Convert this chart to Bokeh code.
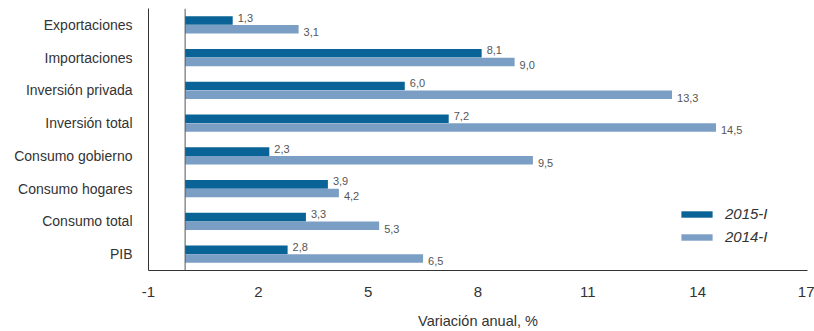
from bokeh.plotting import figure
from bokeh.models import ColumnDataSource, FactorRange, Range1d, Span, FixedTicker, Legend, LegendItem, LabelSet
from bokeh.core.properties import value
from bokeh.transform import dodge
from bokeh.embed import file_html
from bokeh.resources import INLINE

# Components of demand, listed bottom to top
categories = ["PIB", "Consumo total", "Consumo hogares", "Consumo gobierno",
              "Inversión total", "Inversión privada", "Importaciones", "Exportaciones"]
values_2015 = [2.8, 3.3, 3.9, 2.3, 7.2, 6.0, 8.1, 1.3]
values_2014 = [6.5, 5.3, 4.2, 9.5, 14.5, 13.3, 9.0, 3.1]
x_ticks = [-1, 2, 5, 8, 11, 14, 17]

DARK = "#0a6396"
LIGHT = "#7b9ec4"
TEXT = "#333333"
FONT = "Liberation Sans"

def fmt(v):
    return f"{v:.1f}".replace(".", ",")

src = ColumnDataSource(dict(
    cat=categories,
    v15=values_2015,
    v14=values_2014,
    l15=[fmt(v) for v in values_2015],
    l14=[fmt(v) for v in values_2014],
))

p = figure(width=814, height=331, output_backend="svg", toolbar_location=None,
           y_range=FactorRange(factors=categories, range_padding=0),
           x_range=Range1d(-1, 17))
p.min_border_left = 148
p.min_border_right = 7
p.min_border_top = 8
p.min_border_bottom = 58
p.outline_line_color = None
p.grid.grid_line_color = None

bar_h = 0.26
r15 = p.hbar(y=dodge("cat", bar_h / 2, range=p.y_range), left=0, right="v15",
             height=bar_h, source=src, fill_color=DARK, line_color=None)
r14 = p.hbar(y=dodge("cat", -bar_h / 2, range=p.y_range), left=0, right="v14",
             height=bar_h, source=src, fill_color=LIGHT, line_color=None)

# value labels at bar ends
lab15 = LabelSet(x="v15", y=dodge("cat", bar_h / 2, range=p.y_range), text="l15",
                 source=src, x_offset=5, y_offset=-1, text_font=value(FONT),
                 text_font_size="11px", text_color="#555555", text_baseline="bottom")
lab14 = LabelSet(x="v14", y=dodge("cat", -bar_h / 2, range=p.y_range), text="l14",
                 source=src, x_offset=5, y_offset=-3, text_font=value(FONT),
                 text_font_size="11px", text_color="#555555", text_baseline="middle")
p.add_layout(lab15)
p.add_layout(lab14)

# zero reference line
p.add_layout(Span(location=0, dimension="height", line_color="#555555", line_width=1))

# axes
p.xaxis.ticker = FixedTicker(ticks=x_ticks)
p.xaxis.major_label_overrides = {t: str(t) for t in x_ticks}
p.xaxis.major_tick_line_color = None
p.xaxis.minor_tick_line_color = None
p.xaxis.axis_line_color = "#333333"
p.xaxis.major_label_text_font = FONT
p.xaxis.major_label_text_font_size = "15px"
p.xaxis.major_label_text_color = TEXT
p.xaxis.major_label_standoff = 10
p.xaxis.axis_label = "Variación anual, %"
p.xaxis.axis_label_text_font = FONT
p.xaxis.axis_label_text_font_style = "normal"
p.xaxis.axis_label_text_font_size = "14.5px"
p.xaxis.axis_label_text_color = TEXT
p.xaxis.axis_label_standoff = 13

p.yaxis.major_tick_line_color = None
p.yaxis.minor_tick_line_color = None
p.yaxis.axis_line_color = "#333333"
p.yaxis.major_label_text_font = FONT
p.yaxis.major_label_text_font_size = "14px"
p.yaxis.major_label_text_color = TEXT
p.yaxis.major_label_standoff = 10

legend = Legend(items=[LegendItem(label="2015-I", renderers=[r15]),
                       LegendItem(label="2014-I", renderers=[r14])],
                location=(529, 25), orientation="vertical")
legend.background_fill_alpha = 0
legend.border_line_color = None
legend.label_text_font = FONT
legend.label_text_font_style = "italic"
legend.label_text_font_size = "15px"
legend.label_text_color = TEXT
legend.glyph_width = 39
legend.glyph_height = 8
legend.spacing = 6
legend.label_standoff = 9
p.add_layout(legend)

open("out.html", "w").write(file_html(p, INLINE))
